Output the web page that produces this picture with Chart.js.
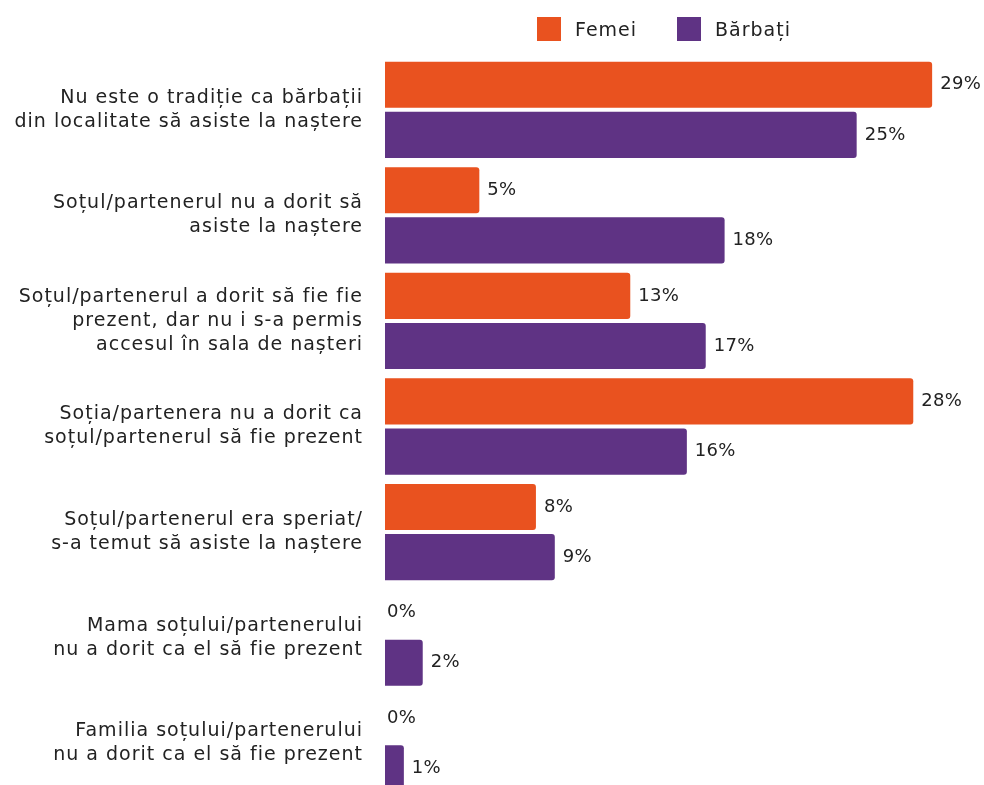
<!DOCTYPE html>
<html>
<head>
<meta charset="utf-8">
<script src="https://cdn.jsdelivr.net/npm/chart.js@4.4.1/dist/chart.umd.min.js"></script>
<style>
  html, body { margin: 0; padding: 0; background: #fff; overflow: hidden; }
  #wrap { position: relative; width: 984px; height: 785px; overflow: hidden; }
  #bars { position: absolute; left: 0; top: 0; }
  #legend { position: absolute; top: 17px; left: 537px; display: flex; align-items: center;
    font-family: "DejaVu Sans", sans-serif; font-size: 19px; letter-spacing: 1px; color: #222; }
  #legend .item { display: flex; align-items: center; margin-right: 40px; }
  #legend .sw { width: 24px; height: 24px; margin-right: 14px; }
</style>
</head>
<body>
<div id="wrap">
  <canvas id="bars" width="984" height="800"></canvas>
  <div id="legend"></div>
</div>
<script>
const categories = [
  ['Nu este o tradiție ca bărbații', 'din localitate să asiste la naștere'],
  ['Soțul/partenerul nu a dorit să', 'asiste la naștere'],
  ['Soțul/partenerul a dorit să fie fie', 'prezent, dar nu i s-a permis', 'accesul în sala de nașteri'],
  ['Soția/partenera nu a dorit ca', 'soțul/partenerul să fie prezent'],
  ['Soțul/partenerul era speriat/', 's-a temut să asiste la naștere'],
  ['Mama soțului/partenerului', 'nu a dorit ca el să fie prezent'],
  ['Familia soțului/partenerului', 'nu a dorit ca el să fie prezent']
];
const femei = [29, 5, 13, 28, 8, 0, 0];
const barbati = [25, 18, 17, 16, 9, 2, 1];
const seriesNames = ['Femei', 'Bărbați'];
const seriesColors = ['#e9521f', '#5f3384'];

const FONT = '"DejaVu Sans", sans-serif';

// legend drawn as html so it can sit over the bars like the original
const legendEl = document.getElementById('legend');
seriesNames.forEach((name, i) => {
  const item = document.createElement('div');
  item.className = 'item';
  item.innerHTML = '<span class="sw" style="background:' + seriesColors[i] + '"></span>' + name;
  legendEl.appendChild(item);
});

// wider letters, the original uses a broad geometric font
const spacing = {
  id: 'spacing',
  beforeDraw(chart) { chart.ctx.letterSpacing = '1px'; }
};

const valueLabels = {
  id: 'valueLabels',
  afterDatasetsDraw(chart) {
    const ctx = chart.ctx;
    ctx.save();
    ctx.letterSpacing = '0.3px';
    ctx.font = '18px ' + FONT;
    ctx.fillStyle = '#222';
    ctx.textBaseline = 'middle';
    ctx.textAlign = 'left';
    chart.data.datasets.forEach((ds, di) => {
      chart.getDatasetMeta(di).data.forEach((bar, i) => {
        const v = ds.data[i];
        const off = v === 0 ? 2 : 8;
        ctx.fillText(v + '%', bar.x + off, bar.y);
      });
    });
    ctx.restore();
  }
};

const ctx = document.getElementById('bars').getContext('2d');
new Chart(ctx, {
  type: 'bar',
  data: {
    labels: categories,
    datasets: [
      { label: seriesNames[0], data: femei, backgroundColor: seriesColors[0] },
      { label: seriesNames[1], data: barbati, backgroundColor: seriesColors[1] }
    ]
  },
  options: {
    indexAxis: 'y',
    responsive: false,
    animation: false,
    layout: { padding: { top: 57, bottom: 4, left: 0, right: 33 } },
    datasets: {
      bar: { categoryPercentage: 0.95, barPercentage: 0.92, borderRadius: 3, borderSkipped: 'start' }
    },
    scales: {
      x: {
        min: 0, max: 30,
        display: false,
        grid: { display: false }
      },
      y: {
        grid: { display: false },
        border: { display: false },
        ticks: {
          padding: 14,
          color: '#222',
          font: { family: FONT, size: 19, lineHeight: 1.26 }
        },
        afterFit(scale) {
          scale.width = 385;
          scale.paddingTop = 0;
          scale.paddingBottom = 0;
        }
      }
    },
    plugins: {
      legend: { display: false },
      tooltip: { enabled: false }
    }
  },
  plugins: [spacing, valueLabels]
});
</script>
</body>
</html>
